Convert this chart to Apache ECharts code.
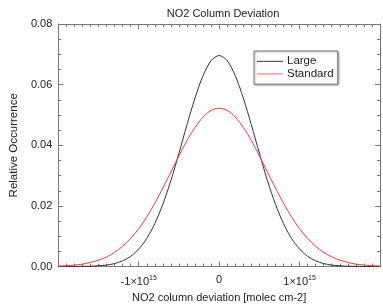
<!DOCTYPE html>
<html>
<head>
<meta charset="utf-8">
<script src="https://cdn.jsdelivr.net/npm/echarts@6/dist/echarts.min.js"></script>
<style>
  html, body { margin: 0; padding: 0; background: #fff; }
  #chart { width: 383px; height: 308px; }
</style>
</head>
<body>
<div id="chart"></div>
<script>
// deviation in units of 1e15 molec cm-2
var deviation = [-2.0, -1.9, -1.8, -1.7, -1.6, -1.5, -1.4, -1.3, -1.2, -1.1, -1.0,
  -0.9, -0.8, -0.7, -0.6, -0.5, -0.4, -0.3, -0.2, -0.1, 0.0,
  0.1, 0.2, 0.3, 0.4, 0.5, 0.6, 0.7, 0.8, 0.9, 1.0,
  1.1, 1.2, 1.3, 1.4, 1.5, 1.6, 1.7, 1.8, 1.9, 2.0];
var large = [0.0000, 0.0000, 0.0000, 0.0001, 0.0001, 0.0003, 0.0005, 0.0010, 0.0019, 0.0034, 0.0058,
  0.0093, 0.0142, 0.0206, 0.0284, 0.0374, 0.0468, 0.0556, 0.0630, 0.0679, 0.0696,
  0.0679, 0.0630, 0.0556, 0.0468, 0.0374, 0.0284, 0.0206, 0.0142, 0.0093, 0.0058,
  0.0034, 0.0019, 0.0010, 0.0005, 0.0003, 0.0001, 0.0001, 0.0000, 0.0000, 0.0000];
var standard = [0.0002, 0.0003, 0.0005, 0.0008, 0.0014, 0.0021, 0.0032, 0.0047, 0.0067, 0.0093, 0.0125,
  0.0164, 0.0209, 0.0259, 0.0312, 0.0365, 0.0416, 0.0459, 0.0493, 0.0515, 0.0522,
  0.0515, 0.0493, 0.0459, 0.0416, 0.0365, 0.0312, 0.0259, 0.0209, 0.0164, 0.0125,
  0.0093, 0.0067, 0.0047, 0.0032, 0.0021, 0.0014, 0.0008, 0.0005, 0.0003, 0.0002];
var xTickLabels = { '-1': '{m|-1\u00d710}{e|15}', '0': '0', '1': '{m|1\u00d710}{e|15}' };

var font = 'Liberation Sans, Arial, Helvetica, sans-serif';
var axisColor = '#777';

function pairs(ys) {
  return deviation.map(function (x, i) { return [x, ys[i]]; });
}

var chart = echarts.init(document.getElementById('chart'));

function xAxisBase(pos, showLabel) {
  return {
    type: 'value', position: pos, min: -2, max: 2, interval: 1,
    axisLine: { onZero: false, lineStyle: { color: axisColor, width: 1 } },
    axisTick: { inside: true, length: 5, lineStyle: { color: axisColor } },
    minorTick: { show: true, splitNumber: 10, length: 3, lineStyle: { color: axisColor } },
    splitLine: { show: false },
    axisLabel: {
      show: showLabel, color: '#222', fontFamily: font, fontSize: 11, margin: 8,
      formatter: function (v) { var k = String(Math.round(v)); return xTickLabels[k] || ''; },
      rich: {
        m: { fontFamily: font, fontSize: 11, color: '#222' },
        e: { fontFamily: font, fontSize: 7, color: '#222', padding: [0, 0, 7, 0] }
      }
    }
  };
}

function yAxisBase(pos, showLabel) {
  return {
    type: 'value', position: pos, min: 0, max: 0.08, interval: 0.02,
    axisLine: { show: true, onZero: false, lineStyle: { color: axisColor, width: 1 } },
    axisTick: { show: true, inside: true, length: 5, lineStyle: { color: axisColor } },
    minorTick: { show: true, splitNumber: 4, length: 3, lineStyle: { color: axisColor } },
    splitLine: { show: false },
    axisLabel: {
      show: showLabel, color: '#222', fontFamily: font, fontSize: 11, margin: 6,
      formatter: function (v) { return v.toFixed(2); }
    }
  };
}

var xBottom = xAxisBase('bottom', true);
xBottom.name = 'NO2 column deviation [molec cm-2]';
xBottom.nameLocation = 'middle';
xBottom.nameGap = 20;
xBottom.nameTextStyle = { color: '#222', fontFamily: font, fontSize: 11 };

var yLeft = yAxisBase('left', true);
yLeft.name = 'Relative Occurrence';
yLeft.nameLocation = 'middle';
yLeft.nameGap = 33;
yLeft.nameTextStyle = { color: '#222', fontFamily: font, fontSize: 11.5 };

var option = {
  animation: false,
  backgroundColor: '#fff',
  title: {
    text: 'NO2 Column Deviation', left: 218, top: 3, textAlign: 'center',
    textStyle: { color: '#222', fontFamily: font, fontSize: 11, fontWeight: 'normal' }
  },
  legend: {
    orient: 'vertical', left: 254, top: 51,
    backgroundColor: '#fff', borderColor: '#777', borderWidth: 1,
    shadowColor: 'rgba(0,0,0,0.3)', shadowBlur: 2, shadowOffsetX: 1, shadowOffsetY: 1,
    padding: [4, 4, 4, 3], itemWidth: 26, itemHeight: 1, itemGap: 0,
    icon: 'rect',
    textStyle: { color: '#222', fontFamily: font, fontSize: 11.5, lineHeight: 12.6, padding: [0, 0, 0, -1] },
    data: ['Large', 'Standard']
  },
  grid: { left: 53, right: 1, top: 24, bottom: 32, containLabel: false },
  xAxis: [xBottom, xAxisBase('top', false)],
  yAxis: [yLeft, yAxisBase('right', false)],
  series: [
    {
      name: 'Large', type: 'line', symbol: 'none', smooth: 0.3,
      lineStyle: { color: '#333', width: 1 }, itemStyle: { color: '#333' },
      data: pairs(large)
    },
    {
      name: 'Standard', type: 'line', symbol: 'none', smooth: 0.3,
      lineStyle: { color: '#ff3333', width: 1 }, itemStyle: { color: '#ff6666' },
      data: pairs(standard)
    }
  ]
};

chart.setOption(option);
</script>
</body>
</html>
